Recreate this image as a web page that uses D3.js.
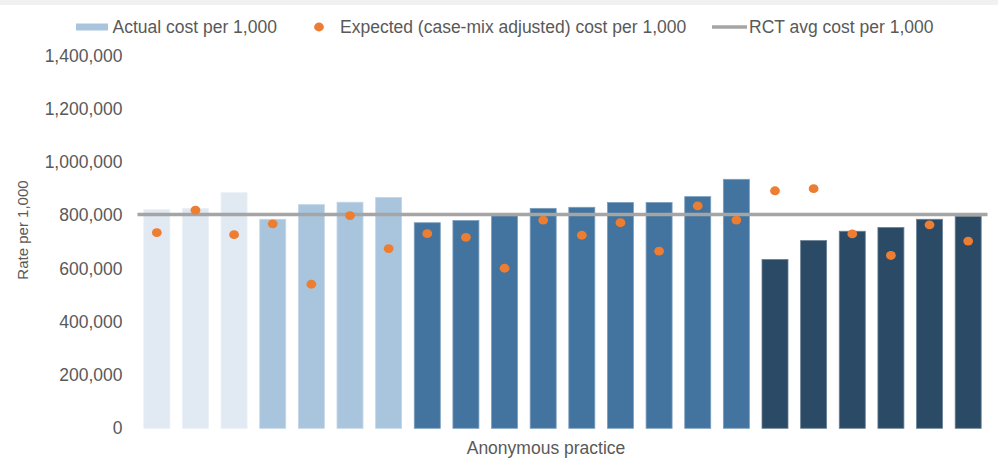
<!DOCTYPE html>
<html>
<head>
<meta charset="utf-8">
<script src="https://cdn.jsdelivr.net/npm/d3@7"></script>
<style>
  html, body { margin: 0; padding: 0; background: #ffffff; }
  svg { display: block; }
  text { font-family: "Liberation Sans", Arial, sans-serif; fill: #595959; }
</style>
</head>
<body>
<svg id="chart" width="998" height="462"></svg>
<script>
// Practices (anonymous), grouped into four shaded bands
const practices = ["P01","P02","P03","P04","P05","P06","P07","P08","P09","P10","P11",
                   "P12","P13","P14","P15","P16","P17","P18","P19","P20","P21","P22"];
const practiceGroup = [0,0,0, 1,1,1,1, 2,2,2,2,2,2,2,2,2, 3,3,3,3,3,3];

// Actual cost per 1,000
const actualCost = [822000, 826000, 885000, 785000, 840000, 849000, 867000,
                    772000, 780000, 798000, 826000, 830000, 848000, 848000, 870000, 935000,
                    634000, 705000, 740000, 754000, 785000, 796000];

// Expected (case-mix adjusted) cost per 1,000
const expectedCost = [735000, 819000, 727000, 768000, 541000, 799000, 675000,
                      731000, 717000, 601000, 782000, 725000, 772000, 665000, 835000, 782000,
                      892000, 900000, 730000, 649000, 764000, 703000];

// RCT average cost per 1,000
const rctAverage = 803000;

const yTicks = [0, 200000, 400000, 600000, 800000, 1000000, 1200000, 1400000];

const legendLabels = ["Actual cost per 1,000",
                      "Expected (case-mix adjusted) cost per 1,000",
                      "RCT avg cost per 1,000"];

const groupColors = ["#e1e9f3", "#a9c5dd", "#42749f", "#2a4a66"];
const orange = "#ed7d31";
const lineGrey = "#a5a5a5";
const fontSize = 17.5;

const svg = d3.select("#chart");
const W = 998, H = 462;

// faint strip along the top edge
svg.append("rect").attr("x", 0).attr("y", 0).attr("width", W).attr("height", 5)
  .attr("fill", "#f1f1f1");

const plotLeft = 137.5, plotRight = 987.5;

const x = d3.scaleBand()
  .domain(practices)
  .range([plotLeft, plotRight])
  .paddingInner(0.327)
  .paddingOuter(0.1635);

const y = d3.scaleLinear()
  .domain([0, 1400000])
  .range([428.3, 55.5]);

// y axis (labels only)
const yAxis = d3.axisLeft(y)
  .tickValues(yTicks)
  .tickFormat(d3.format(","))
  .tickSize(0)
  .tickPadding(15);

const gy = svg.append("g")
  .attr("transform", `translate(${plotLeft},0)`)
  .call(yAxis);
gy.select(".domain").remove();
gy.selectAll("text")
  .attr("font-family", "Liberation Sans, Arial, sans-serif")
  .attr("font-size", fontSize)
  .attr("fill", "#595959");

// bars
svg.append("g").selectAll("rect")
  .data(practices)
  .join("rect")
  .attr("x", d => x(d))
  .attr("width", x.bandwidth())
  .attr("y", (d, i) => y(actualCost[i]))
  .attr("height", (d, i) => y(0) - y(actualCost[i]))
  .attr("fill", (d, i) => groupColors[practiceGroup[i]])
  .attr("stroke", (d, i) => d3.interpolateRgb(groupColors[practiceGroup[i]], "#ffffff")(0.3))
  .attr("stroke-width", 0.8);

// RCT average line
svg.append("line")
  .attr("x1", plotLeft).attr("x2", plotRight)
  .attr("y1", y(rctAverage)).attr("y2", y(rctAverage))
  .attr("stroke", lineGrey)
  .attr("stroke-width", 3.5);

// expected cost markers
svg.append("g").selectAll("ellipse")
  .data(practices)
  .join("ellipse")
  .attr("cx", d => x(d) + x.bandwidth() / 2)
  .attr("cy", (d, i) => y(expectedCost[i]))
  .attr("rx", 4.9)
  .attr("ry", 4.4)
  .attr("fill", orange);

// axis titles
svg.append("text")
  .attr("transform", "translate(27.5,230) rotate(-90)")
  .attr("text-anchor", "middle")
  .attr("font-size", 15)
  .text("Rate per 1,000");

svg.append("text")
  .attr("x", 546).attr("y", 454)
  .attr("text-anchor", "middle")
  .attr("font-size", fontSize)
  .text("Anonymous practice");

// legend
const legend = svg.append("g");
legend.append("rect")
  .attr("x", 76).attr("y", 23.5).attr("width", 32).attr("height", 7)
  .attr("fill", groupColors[1]);
legend.append("text").attr("x", 112.5).attr("y", 33).attr("font-size", fontSize).text(legendLabels[0]);

legend.append("ellipse")
  .attr("cx", 319).attr("cy", 27).attr("rx", 4.9).attr("ry", 4.4)
  .attr("fill", orange);
legend.append("text").attr("x", 340).attr("y", 33).attr("font-size", fontSize).text(legendLabels[1]);

legend.append("line")
  .attr("x1", 712).attr("x2", 747).attr("y1", 27).attr("y2", 27)
  .attr("stroke", lineGrey).attr("stroke-width", 3.5);
legend.append("text").attr("x", 749).attr("y", 33).attr("font-size", fontSize).text(legendLabels[2]);
</script>
</body>
</html>
